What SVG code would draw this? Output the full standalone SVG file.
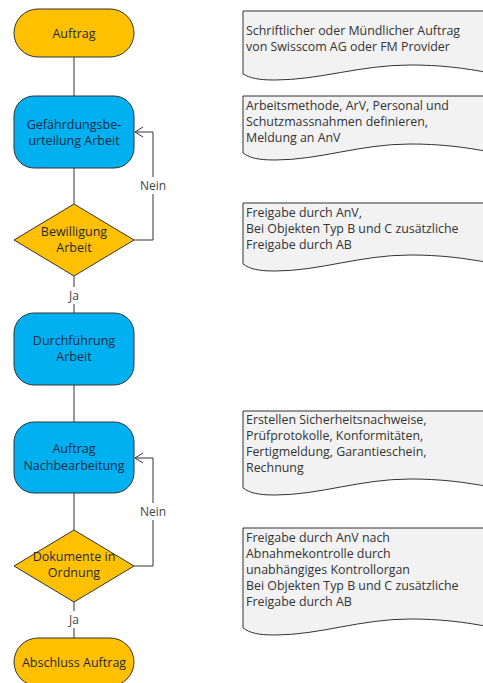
<svg xmlns="http://www.w3.org/2000/svg" width="483" height="683" viewBox="0 0 483 683">
<style>
.term{fill:#FFC000;stroke:#333;stroke-width:1}
.proc{fill:#00B0F0;stroke:#333;stroke-width:1}
.dec{fill:#FFC000;stroke:#333;stroke-width:1}
.doc{fill:#F2F2F2;stroke:#333;stroke-width:1}
.nt{font-family:"Open Sans","Noto Sans",sans-serif;font-size:12.5px;fill:#1F2A44;text-anchor:middle}
.dt{font-family:"Open Sans","Noto Sans",sans-serif;font-size:12.4px;fill:#333}
.lbl{font-family:"Open Sans","Noto Sans",sans-serif;font-size:12px;fill:#444;text-anchor:middle}
.conn{fill:none;stroke:#333;stroke-width:1}
</style>
<defs>
<marker id="arr" markerWidth="10" markerHeight="12" refX="9" refY="6" orient="auto" markerUnits="userSpaceOnUse">
<path d="M1,1 L9,6 L1,11" fill="none" stroke="#333" stroke-width="1"/>
</marker>
</defs>
<rect width="483" height="683" fill="#fff"/>
<g id="connectors">
<path class="conn" d="M74,57 V96"/>
<path class="conn" d="M74,168 V204"/>
<path class="conn" d="M134,240 H153 V132 H135" marker-end="url(#arr)"/>
<path class="conn" d="M74,276 V313"/>
<path class="conn" d="M74,385 V422"/>
<path class="conn" d="M74,493 V530"/>
<path class="conn" d="M134,566 H153 V458 H135" marker-end="url(#arr)"/>
<path class="conn" d="M74,602 V638"/>
<rect x="137" y="177" width="32" height="17" fill="#fff"/>
<text class="lbl" x="153" y="190">Nein</text>
<rect x="65" y="287" width="18" height="17" fill="#fff"/>
<text class="lbl" x="74" y="300">Ja</text>
<rect x="137" y="503" width="32" height="17" fill="#fff"/>
<text class="lbl" x="153" y="516">Nein</text>
<rect x="65" y="611" width="18" height="17" fill="#fff"/>
<text class="lbl" x="74" y="624">Ja</text>
</g>
<g id="auftrag">
<rect class="term" x="14" y="9" width="120" height="48" rx="24"/>
<text class="nt" x="74" y="38">Auftrag</text>
</g>
<g id="gefaehrdung">
<rect class="proc" x="14" y="96" width="120" height="72" rx="20"/>
<text class="nt" x="74" y="129">Gefährdungsbe-</text>
<text class="nt" x="74" y="145">urteilung Arbeit</text>
</g>
<g id="bewilligung">
<polygon class="dec" points="74,204 134,240 74,276 14,240"/>
<text class="nt" x="74" y="236">Bewilligung</text>
<text class="nt" x="74" y="252">Arbeit</text>
</g>
<g id="durchfuehrung">
<rect class="proc" x="14" y="313" width="120" height="72" rx="20"/>
<text class="nt" x="74" y="345">Durchführung</text>
<text class="nt" x="74" y="361">Arbeit</text>
</g>
<g id="nachbearbeitung">
<rect class="proc" x="14" y="422" width="120" height="71" rx="20"/>
<text class="nt" x="74" y="453">Auftrag</text>
<text class="nt" x="74" y="470">Nachbearbeitung</text>
</g>
<g id="dokumente">
<polygon class="dec" points="74,530 134,566 74,602 14,566"/>
<text class="nt" x="74" y="561">Dokumente in</text>
<text class="nt" x="74" y="577">Ordnung</text>
</g>
<g id="abschluss">
<rect class="term" x="14" y="638" width="120" height="48" rx="24"/>
<text class="nt" x="74" y="667">Abschluss Auftrag</text>
</g>
<g id="doc1">
<path class="doc" d="M243,11 H490 V73 C465,68 440,65 410,65 C360,65 320,80 275,80 C258,80 250,78 243,74 Z"/>
<text class="dt" x="246" y="35">Schriftlicher oder Mündlicher Auftrag</text>
<text class="dt" x="246" y="51">von Swisscom AG oder FM Provider</text>
</g>
<g id="doc2">
<path class="doc" d="M243,96 H490 V152 C465,147 440,144 410,144 C360,144 320,160 275,160 C258,160 250,158 243,153 Z"/>
<text class="dt" x="246" y="110">Arbeitsmethode, ArV, Personal und</text>
<text class="dt" x="246" y="126">Schutzmassnahmen definieren,</text>
<text class="dt" x="246" y="142">Meldung an AnV</text>
</g>
<g id="doc3">
<path class="doc" d="M243,203 H490 V263 C465,258 440,255 410,255 C360,255 320,271 275,271 C258,271 250,269 243,264 Z"/>
<text class="dt" x="246" y="217">Freigabe durch AnV,</text>
<text class="dt" x="246" y="233">Bei Objekten Typ B und C zusätzliche</text>
<text class="dt" x="246" y="249">Freigabe durch AB</text>
</g>
<g id="doc4">
<path class="doc" d="M243,411 H490 V487 C465,482 440,479 410,479 C360,479 320,495 275,495 C258,495 250,493 243,488 Z"/>
<text class="dt" x="246" y="424">Erstellen Sicherheitsnachweise,</text>
<text class="dt" x="246" y="440">Prüfprotokolle, Konformitäten,</text>
<text class="dt" x="246" y="456">Fertigmeldung, Garantieschein,</text>
<text class="dt" x="246" y="472">Rechnung</text>
</g>
<g id="doc5">
<path class="doc" d="M243,528 H490 V627 C465,622 440,619 410,619 C360,619 320,635 275,635 C258,635 250,633 243,628 Z"/>
<text class="dt" x="246" y="542">Freigabe durch AnV nach</text>
<text class="dt" x="246" y="558">Abnahmekontrolle durch</text>
<text class="dt" x="246" y="574">unabhängiges Kontrollorgan</text>
<text class="dt" x="246" y="590">Bei Objekten Typ B und C zusätzliche</text>
<text class="dt" x="246" y="606">Freigabe durch AB</text>
</g>
</svg>
